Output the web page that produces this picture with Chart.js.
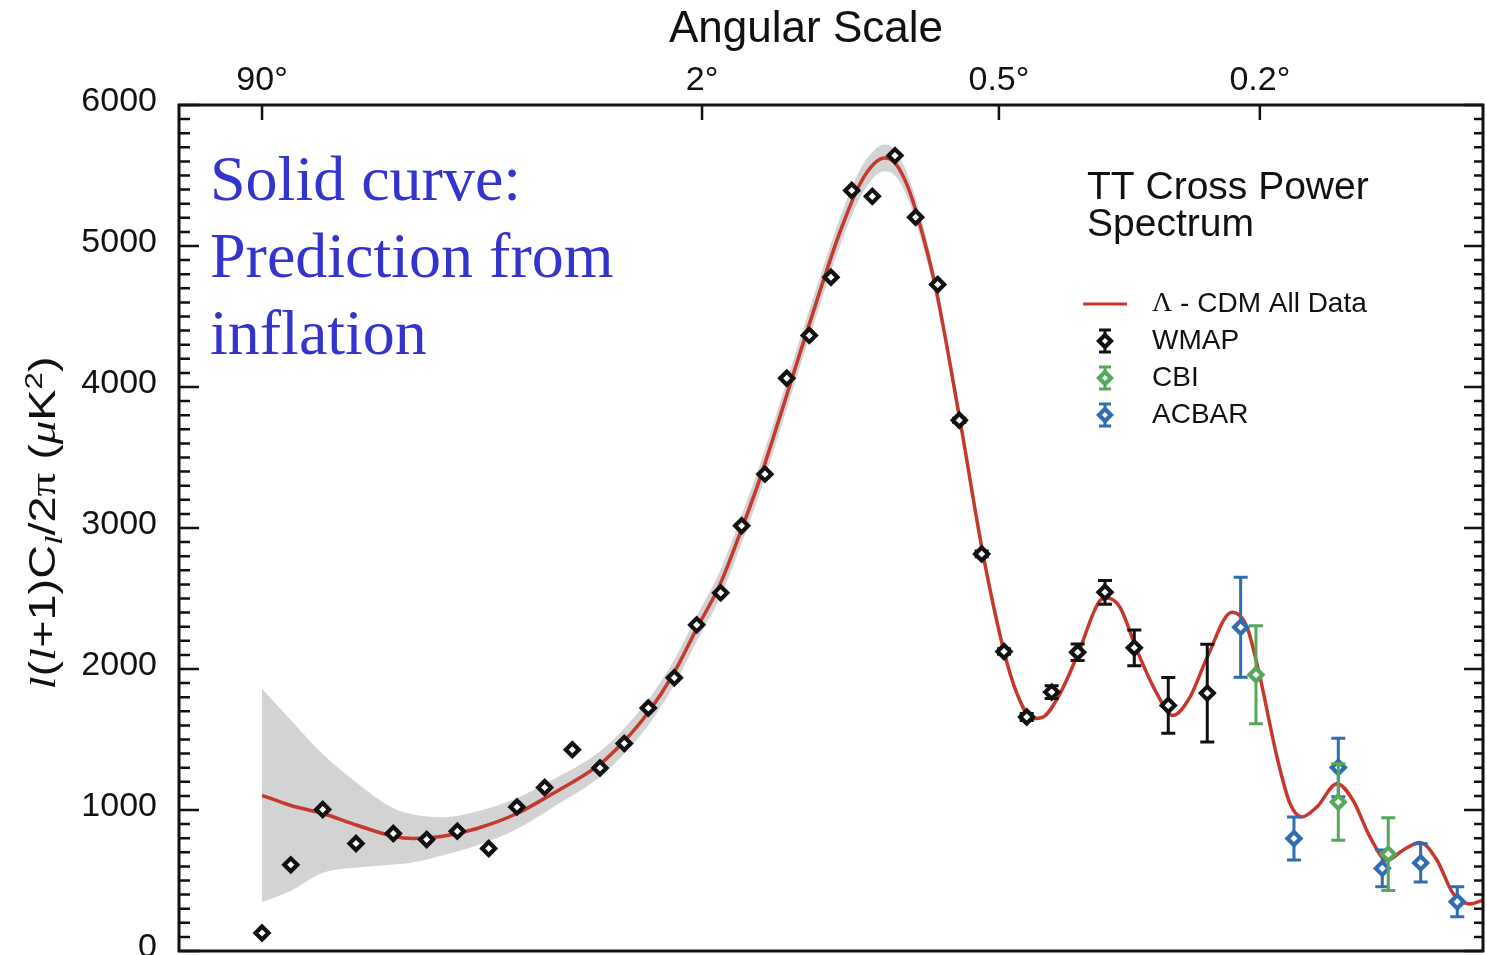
<!DOCTYPE html>
<html>
<head>
<meta charset="utf-8">
<script src="https://cdn.jsdelivr.net/npm/chart.js@4.4.1/dist/chart.umd.min.js"></script>
<style>
  html, body { margin: 0; padding: 0; background: #fff; }
  #wrap { width: 1487px; height: 955px; position: relative; }
</style>
</head>
<body>
<div id="wrap"><canvas id="cmb"></canvas></div>
<script>
// horizontal axis is linear in l^0.25 (l = multipole)
const SCALE_POWER = 0.25;
const lpos = l => Math.pow(l, SCALE_POWER);

const X_MIN_L = 0.48;
const X_MAX_L = 1716;
const Y_MIN = 0, Y_MAX = 6000, Y_STEP = 1000, Y_MINOR = 100;

// top axis: angular scale, l ~ 180 / theta
const angleDegrees = [90, 2, 0.5, 0.2];
const angleLabels = ['90°', '2°', '0.5°', '0.2°'];

// Lambda-CDM model curve
const modelL  = [2.0, 2.94, 4.43, 6.51, 9.42, 11.41, 14.96, 19.93, 27.25, 34.67, 48.69, 56.40, 65.77, 76.27, 87.49,
                 99.36, 110.6, 122.8, 136.0, 150.2, 165.5, 182.0, 199.6, 213.7, 223.4, 233.5, 246.1, 258.1, 277.4,
                 307.8, 337.9, 367.3, 386.4, 409.3, 426.8, 454.9, 486.2, 526.5, 539.9, 565.3, 600.0, 642.7, 678.6,
                 718.3, 759.7, 823.9, 864.2, 900.4, 949.3, 988.2, 1025.0, 1072.5, 1138.5, 1193.3, 1253.7, 1316.4,
                 1377.6, 1444.9, 1514.6, 1582.5, 1657.1, 1716];
const modelCl = [1104, 1034, 975, 892, 814, 798, 814, 869, 975, 1105, 1325, 1480, 1690, 1960, 2290,
                 2600, 2960, 3350, 3790, 4240, 4680, 5100, 5440, 5590, 5625, 5590, 5435, 5199, 4727,
                 3764, 2816, 2124, 1825, 1648, 1659, 1825, 2108, 2485, 2504, 2438, 2131, 1825, 1671,
                 1800, 2080, 2402, 2296, 1942, 1376, 1046, 951, 1022, 1187, 1069, 809, 644,
                 715, 770, 644, 409, 333, 361];

// cosmic variance band around the model
const bandL    = modelL.slice(0, 34);
const bandHigh = [1860, 1644, 1395, 1192, 1014, 968, 949, 989, 1085, 1205, 1415, 1570, 1780, 2050, 2380,
                  2695, 3060, 3450, 3890, 4340, 4780, 5200, 5540, 5685, 5720, 5680, 5520, 5279, 4797,
                  3819, 2856, 2154, 1845, 1663];
const bandLow  = [348, 424, 555, 592, 614, 628, 679, 749, 865, 1005, 1235, 1390, 1600, 1870, 2200,
                  2505, 2860, 3250, 3690, 4140, 4580, 5000, 5340, 5495, 5530, 5500, 5350, 5119, 4657,
                  3709, 2776, 2094, 1805, 1633];

// WMAP
const wmapL   = [2.0, 2.97, 4.42, 6.44, 9.45, 12.94, 16.93, 21.90, 27.25, 33.39, 40.49, 48.69, 56.85, 65.89,
                 76.85, 87.33, 99.74, 111.6, 126.0, 140.7, 157.2, 174.4, 192.2, 211.1, 233.5, 255.5, 280.6,
                 306.9, 336.1, 367.3, 401.1, 441.0, 485.6, 536.0, 594.4, 667.9, 760.4];
const wmapCl  = [127, 611, 1003, 763, 833, 791, 850, 727, 1022, 1159, 1428, 1298, 1471, 1723,
                 1938, 2313, 2540, 3016, 3382, 4062, 4366, 4779, 5393, 5352, 5641, 5204, 4727,
                 3764, 2816, 2124, 1659, 1836, 2119, 2544, 2150, 1742, 1829];
const wmapErr = [0, 0, 0, 0, 0, 0, 0, 0, 0, 0, 0, 0, 0, 0,
                 0, 0, 0, 0, 0, 0, 0, 0, 0, 0, 0, 0, 0,
                 15, 20, 20, 25, 45, 59, 84, 127, 198, 347];

// CBI
const cbiL   = [889.1, 1142.9, 1321.3];
const cbiCl  = [1959, 1057, 687];
const cbiErr = [348, 271, 258];

// ACBAR
const acbarL   = [847.0, 1000.3, 1142.9, 1298.9, 1447.7, 1601.0];
const acbarCl  = [2296, 798, 1301, 586, 625, 349];
const acbarErr = [354, 153, 207, 130, 136, 106];

const SANS = '"Liberation Sans", Arial, Helvetica, sans-serif';
const SERIF = '"Liberation Serif", "Times New Roman", serif';

const pts = (ls, vs) => ls.map((l, i) => ({ x: lpos(l), y: vs[i] }));

const errorBars = {
  id: 'errorBars',
  beforeDatasetDraw(chart, args) {
    const ds = chart.data.datasets[args.index];
    if (!ds.errors) return;
    const y = chart.scales.y;
    const ctx = chart.ctx;
    ctx.save();
    ctx.strokeStyle = ds.borderColor;
    ctx.lineWidth = 3;
    args.meta.data.forEach((p, i) => {
      const e = ds.errors[i];
      if (!e) return;
      const v = ds.data[i].y;
      const top = y.getPixelForValue(v + e);
      const bot = y.getPixelForValue(v - e);
      ctx.beginPath();
      ctx.moveTo(p.x, top); ctx.lineTo(p.x, bot);
      ctx.moveTo(p.x - 7, top); ctx.lineTo(p.x + 7, top);
      ctx.moveTo(p.x - 7, bot); ctx.lineTo(p.x + 7, bot);
      ctx.stroke();
    });
    ctx.restore();
  }
};

function diamond(ctx, x, y, color) {
  ctx.save();
  ctx.beginPath();
  ctx.moveTo(x, y - 6); ctx.lineTo(x + 6, y); ctx.lineTo(x, y + 6); ctx.lineTo(x - 6, y);
  ctx.closePath();
  ctx.fillStyle = '#fff';
  ctx.fill();
  ctx.lineWidth = 4.2;
  ctx.strokeStyle = color;
  ctx.stroke();
  ctx.restore();
}

const frameAndText = {
  id: 'frameAndText',
  afterDraw(chart) {
    const ctx = chart.ctx;
    const { left, top, right, bottom } = chart.chartArea;
    const xs = chart.scales.x, ys = chart.scales.y;
    ctx.save();
    ctx.strokeStyle = '#111';
    ctx.lineWidth = 3;
    ctx.strokeRect(left, top, right - left, bottom - top);

    // inward ticks, left and right
    ctx.lineWidth = 2.5;
    ctx.beginPath();
    for (let v = Y_MIN; v <= Y_MAX; v += Y_MINOR) {
      const py = ys.getPixelForValue(v);
      const major = v % Y_STEP === 0;
      ctx.moveTo(left, py); ctx.lineTo(left + (major ? 20 : 11), py);
      ctx.moveTo(right, py); ctx.lineTo(right - (major ? 19 : 9), py);
    }
    xs.ticks.forEach(t => {
      const px = xs.getPixelForValue(t.value);
      ctx.moveTo(px, top); ctx.lineTo(px, top + 15);
    });
    ctx.stroke();

    // axis titles
    ctx.fillStyle = '#111';
    ctx.textAlign = 'center';
    ctx.textBaseline = 'alphabetic';
    ctx.font = '44px ' + SANS;
    ctx.fillText('Angular Scale', 806, 42);

    const parts = [
      { t: 'l', font: 'italic 36px ' + SERIF },
      { t: '(', font: '36px ' + SANS },
      { t: 'l', font: 'italic 36px ' + SERIF },
      { t: '+1)C', font: '36px ' + SANS },
      { t: 'l', font: 'italic 26px ' + SERIF, dy: 7 },
      { t: '/2', font: '36px ' + SANS },
      { t: 'π', font: '36px ' + SERIF },
      { t: ' (', font: '36px ' + SANS },
      { t: 'μ', font: 'italic 36px ' + SERIF },
      { t: 'K', font: '36px ' + SANS },
      { t: '2', font: '24px ' + SANS, dy: -13 },
      { t: ')', font: '36px ' + SANS }
    ];
    let total = 0;
    parts.forEach(p => { ctx.font = p.font; p.w = ctx.measureText(p.t).width; total += p.w; });
    ctx.save();
    ctx.translate(55, 523);
    ctx.rotate(-Math.PI / 2);
    ctx.scale(333 / total, 1);
    ctx.textAlign = 'left';
    let cx = -total / 2;
    parts.forEach(p => { ctx.font = p.font; ctx.fillText(p.t, cx, p.dy || 0); cx += p.w; });
    ctx.restore();

    // annotation
    ctx.textAlign = 'left';
    ctx.fillStyle = '#3434cc';
    ctx.font = '64px ' + SERIF;
    ['Solid curve:', 'Prediction from', 'inflation'].forEach((s, i) => ctx.fillText(s, 210, 200 + i * 77));

    // legend
    ctx.fillStyle = '#111';
    ctx.font = '39px ' + SANS;
    ctx.fillText('TT Cross Power', 1087, 199);
    ctx.fillText('Spectrum', 1087, 236);

    const items = chart.data.datasets.filter(d => d.inLegend);
    ctx.textBaseline = 'middle';
    items.forEach((d, i) => {
      const y = 304 + i * 37;
      if (d.errors) {
        ctx.strokeStyle = d.borderColor;
        ctx.lineWidth = 3;
        ctx.beginPath();
        ctx.moveTo(1105, y - 11); ctx.lineTo(1105, y + 11);
        ctx.moveTo(1099, y - 11); ctx.lineTo(1111, y - 11);
        ctx.moveTo(1099, y + 11); ctx.lineTo(1111, y + 11);
        ctx.stroke();
        diamond(ctx, 1105, y, d.borderColor);
      } else {
        ctx.strokeStyle = d.borderColor;
        ctx.lineWidth = 3;
        ctx.beginPath();
        ctx.moveTo(1083, y); ctx.lineTo(1127, y);
        ctx.stroke();
      }
      let tx = 1152;
      let label = d.label;
      if (label.startsWith('Λ')) {
        ctx.font = '28px ' + SERIF;
        ctx.fillText('Λ', tx, y);
        tx += ctx.measureText('Λ').width;
        label = label.slice(1);
      }
      ctx.font = '28px ' + SANS;
      ctx.fillText(label, tx, y);
    });
    ctx.restore();
  }
};

const pointStyleFor = color => ({
  showLine: false,
  pointStyle: 'rectRot',
  pointRadius: 6.5,
  pointBorderWidth: 4.2,
  borderColor: color,
  pointBorderColor: color,
  pointBackgroundColor: '#fff',
  inLegend: true
});

new Chart(document.getElementById('cmb'), {
  type: 'line',
  data: {
    datasets: [
      { label: 'band high', data: pts(bandL, bandHigh), borderWidth: 0, pointRadius: 0, fill: false,
        cubicInterpolationMode: 'monotone', order: 5 },
      { label: 'band low', data: pts(bandL, bandLow), borderWidth: 0, pointRadius: 0, fill: '-1',
        backgroundColor: '#d3d3d3', cubicInterpolationMode: 'monotone', order: 5 },
      { label: 'Λ - CDM All Data', data: pts(modelL, modelCl), borderColor: '#c4392c', borderWidth: 3.5,
        pointRadius: 0, cubicInterpolationMode: 'monotone', fill: false, order: 4, inLegend: true },
      Object.assign({ label: 'WMAP', data: pts(wmapL, wmapCl), errors: wmapErr, order: 3 }, pointStyleFor('#111')),
      Object.assign({ label: 'CBI', data: pts(cbiL, cbiCl), errors: cbiErr, order: 1 }, pointStyleFor('#55a85a')),
      Object.assign({ label: 'ACBAR', data: pts(acbarL, acbarCl), errors: acbarErr, order: 2 }, pointStyleFor('#2f6cb0'))
    ]
  },
  options: {
    responsive: true,
    maintainAspectRatio: false,
    animation: false,
    devicePixelRatio: 1,
    layout: { autoPadding: false, padding: { left: 0, top: 0, right: 4, bottom: 4 } },
    plugins: { legend: { display: false }, tooltip: { enabled: false } },
    scales: {
      x: {
        type: 'linear',
        position: 'top',
        min: lpos(X_MIN_L),
        max: lpos(X_MAX_L),
        afterBuildTicks: s => { s.ticks = angleDegrees.map(a => ({ value: lpos(180 / a) })); },
        afterFit: s => { s.height = 105; s.paddingLeft = 0; s.paddingRight = 0; },
        grid: { display: false, drawTicks: false },
        border: { display: false },
        ticks: {
          autoSkip: false, maxRotation: 0, padding: 4,
          color: '#111', font: { family: SANS, size: 34 },
          callback: (v, i) => angleLabels[i]
        }
      },
      y: {
        min: Y_MIN,
        max: Y_MAX,
        afterFit: s => { s.width = 179; s.paddingTop = 0; s.paddingBottom = 0; },
        grid: { display: false, drawTicks: false },
        border: { display: false },
        ticks: {
          stepSize: Y_STEP, padding: 22, labelOffset: -3,
          color: '#111', font: { family: SANS, size: 34 },
          callback: v => String(v)
        }
      }
    }
  },
  plugins: [errorBars, frameAndText]
});
</script>
</body>
</html>
